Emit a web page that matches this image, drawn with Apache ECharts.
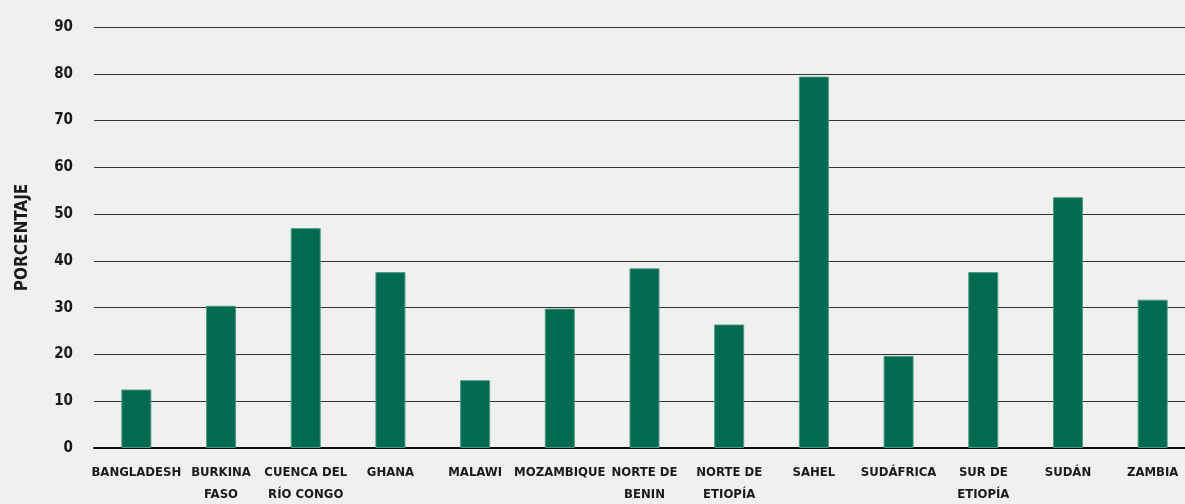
<!DOCTYPE html>
<html>
<head>
    <meta charset="UTF-8">
    <title>Porcentaje por región</title>
    <script type="text/javascript" src="https://cdn.jsdelivr.net/npm/echarts@6/dist/echarts.min.js"></script>
    <style>
        body,html{
            margin: 0;
            padding: 0;
            width: 100%;
            height: 100%;
            background: #f0f0f0;
        }
        #chart{
            width: 1185px;
            height: 504px;
        }
    </style>
</head>
<body>
<div id="chart"></div>
<script>
    // datos
    var regiones = ['BANGLADESH', 'BURKINA\nFASO', 'CUENCA DEL\nRÍO CONGO', 'GHANA', 'MALAWI',
        'MOZAMBIQUE', 'NORTE DE\nBENIN', 'NORTE DE\nETIOPÍA', 'SAHEL', 'SUDÁFRICA',
        'SUR DE\nETIOPÍA', 'SUDÁN', 'ZAMBIA'];
    var porcentajes = [12.5, 30.4, 47.0, 37.6, 14.5, 29.8, 38.4, 26.4, 79.4, 19.7, 37.6, 53.6, 31.7];
    var ticksY = [0, 10, 20, 30, 40, 50, 60, 70, 80, 90];

    var fuente = '"Liberation Sans Narrow", "DejaVu Sans Condensed", "Roboto", sans-serif';

    var chart = echarts.init(document.getElementById('chart'));
    var option = {
        backgroundColor: '#f0f0f0',
        animation: false,
        grid: {
            left: 94,
            right: -10,
            top: 27,
            bottom: 56,
            containLabel: false,
            outerBoundsMode: 'none'
        },
        xAxis: {
            type: 'category',
            data: regiones,
            axisLine: { show: true, lineStyle: { color: '#111', width: 2 } },
            axisTick: { show: false },
            axisLabel: {
                interval: 0,
                margin: 14,
                color: '#1a1a1a',
                fontFamily: fuente,
                fontWeight: 'bold',
                fontSize: 13,
                lineHeight: 22,
                verticalAlign: 'top'
            }
        },
        yAxis: {
            type: 'value',
            min: ticksY[0],
            max: ticksY[ticksY.length - 1],
            interval: 10,
            name: 'PORCENTAJE',
            nameLocation: 'middle',
            nameGap: 63,
            nameRotate: 90,
            nameTextStyle: {
                color: '#1a1a1a',
                fontFamily: fuente,
                fontWeight: 'bold',
                fontSize: 17
            },
            axisLine: { show: false },
            axisTick: { show: false },
            axisLabel: {
                margin: 21,
                color: '#1a1a1a',
                fontFamily: fuente,
                fontWeight: 'bold',
                fontSize: 15
            },
            splitLine: { show: true, lineStyle: { color: '#333', width: 1 } }
        },
        series: [
            {
                type: 'bar',
                data: porcentajes,
                barWidth: 30,
                itemStyle: {
                    color: '#006b50',
                    borderColor: '#4c9a80',
                    borderWidth: 1
                }
            }
        ]
    };
    chart.setOption(option);
</script>
</body>
</html>
